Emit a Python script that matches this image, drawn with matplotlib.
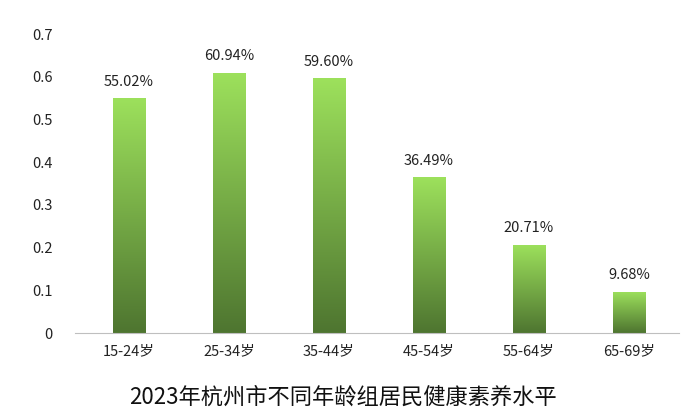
import matplotlib
matplotlib.use("Agg")
import matplotlib.pyplot as plt
import numpy as np
from matplotlib.colors import LinearSegmentedColormap

plt.rcParams['font.family'] = ['Noto Sans CJK SC', 'DejaVu Sans']

categories = ['15-24岁', '25-34岁', '35-44岁', '45-54岁', '55-64岁', '65-69岁']
values = [0.5502, 0.6094, 0.5960, 0.3649, 0.2071, 0.0968]
labels = ['55.02%', '60.94%', '59.60%', '36.49%', '20.71%', '9.68%']
title = '2023年杭州市不同年龄组居民健康素养水平'

fig = plt.figure(figsize=(7, 4.2), dpi=100)
ax = fig.add_axes([0.107, 0.207, 0.863, 0.712])
x = np.arange(len(categories))
bars = ax.bar(x, values, width=0.32, color='none')
cmap = LinearSegmentedColormap.from_list('g', ['#4e7530', '#9de15c'])
grad = np.linspace(0, 1, 256).reshape(-1, 1)
for b in bars:
    x0, w, h = b.get_x(), b.get_width(), b.get_height()
    im = ax.imshow(grad, cmap=cmap, origin='lower', aspect='auto',
                   extent=[x0, x0 + w, 0, h], zorder=2)
    im.set_clip_path(b)
for xi, v, l in zip(x, values, labels):
    ax.text(xi, v + 0.022, l, ha='center', va='bottom', fontsize=10.5, color='#222222')
ax.set_xlim(-0.54, 5.5)
ax.set_ylim(0, 0.7)
ax.set_yticks(np.arange(0, 0.71, 0.1))
ax.set_yticklabels(['0', '0.1', '0.2', '0.3', '0.4', '0.5', '0.6', '0.7'])
ax.set_xticks(x)
ax.set_xticklabels(categories)
for s in ['top', 'right', 'left']:
    ax.spines[s].set_visible(False)
ax.spines['bottom'].set_color('#bfbfbf')
ax.tick_params(axis='both', length=0, labelsize=10.5, colors='#222222')
ax.tick_params(axis='y', pad=16)
ax.tick_params(axis='x', pad=8)
fig.text(0.49, 0.055, title, ha='center', va='center', fontsize=16, color='#111111')
fig.savefig('out.png', dpi=100)
